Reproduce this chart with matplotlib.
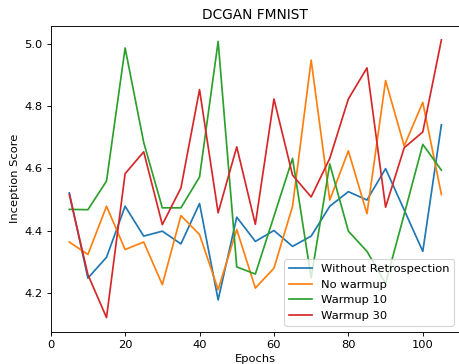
import matplotlib
matplotlib.use("Agg")
import matplotlib.pyplot as plt

# epochs and inception scores
epochs = [5, 10, 15, 20, 25, 30, 35, 40, 45, 50, 55,
          60, 65, 70, 75, 80, 85, 90, 95, 100, 105]

without_retro = [4.521, 4.247, 4.314, 4.478, 4.382, 4.398, 4.357, 4.487, 4.177, 4.443, 4.365,
                 4.400, 4.349, 4.382, 4.478, 4.525, 4.498, 4.599, 4.466, 4.333, 4.740]
no_warmup = [4.363, 4.323, 4.478, 4.339, 4.363, 4.226, 4.448, 4.387, 4.210, 4.403, 4.215,
             4.279, 4.478, 4.948, 4.498, 4.656, 4.454, 4.882, 4.672, 4.812, 4.516]
warmup_10 = [4.468, 4.467, 4.559, 4.987, 4.683, 4.473, 4.473, 4.572, 5.008, 4.283, 4.260,
             4.446, 4.632, 4.248, 4.614, 4.398, 4.333, 4.230, 4.452, 4.677, 4.594]
warmup_30 = [4.516, 4.258, 4.120, 4.583, 4.653, 4.419, 4.537, 4.853, 4.457, 4.669, 4.420,
             4.823, 4.578, 4.508, 4.632, 4.823, 4.923, 4.475, 4.666, 4.717, 5.013]

dpi = 82.6
fig = plt.figure(figsize=(459 / dpi, 364 / dpi), dpi=dpi)
# the reference is cropped on the right, so the axes run up to the edge
ax = fig.add_axes([50.7 / 459, 32.5 / 364, 409.3 / 459, 305.5 / 364])

ax.plot(epochs, without_retro, label="Without Retrospection")
ax.plot(epochs, no_warmup, label="No warmup")
ax.plot(epochs, warmup_10, label="Warmup 10")
ax.plot(epochs, warmup_30, label="Warmup 30")

ax.spines["right"].set_visible(False)  # cut off in the reference

ax.set_title("DCGAN FMNIST")
ax.set_xlabel("Epochs")
ax.set_ylabel("Inception Score")
ax.legend(loc="lower right")

fig.savefig("out.png", dpi=dpi)
